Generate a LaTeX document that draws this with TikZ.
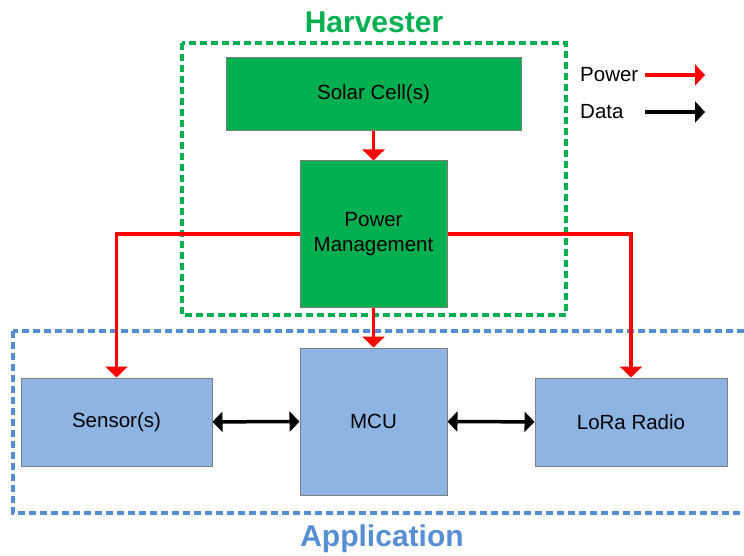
\documentclass[tikz,border=0pt]{standalone}
\usepackage{fontspec}
\setmainfont{Liberation Sans}
\usetikzlibrary{arrows.meta}
\definecolor{gfill}{HTML}{00B050}
\definecolor{bfill}{HTML}{8EB4E3}
\definecolor{bdash}{HTML}{558ED5}
\definecolor{edge}{HTML}{7F7F7F}
\tikzset{
  gbox/.style={draw=edge, line width=1pt, fill=gfill, align=center, inner sep=0pt, font=\fontsize{20.5}{25}\selectfont},
  bbox/.style={draw=edge, line width=1pt, fill=bfill, align=center, inner sep=0pt, font=\fontsize{20.5}{25}\selectfont},
  pw/.style={draw=red, line width=3.5pt, -{Triangle[width=22pt,length=11pt]}},
  dt/.style={draw=black, line width=3.5pt, {Triangle[width=20pt,length=10pt]}-{Triangle[width=20pt,length=10pt]}},
  lgtext/.style={anchor=west, inner sep=0pt, font=\fontsize{20.5}{25}\selectfont},
  region/.style={line width=3.5pt, dash pattern=on 7pt off 4pt},
  title/.style={font=\fontsize{30}{36}\selectfont\bfseries, inner sep=0pt}
}
\begin{document}
\begin{tikzpicture}[x=1pt,y=-1pt]
\useasboundingbox (0,0) rectangle (744,556);
% region boxes
\draw[region, draw=gfill] (182,43) rectangle (566,315);
\draw[region, draw=bdash] (13,331) rectangle (752,513);
\node[title, text=gfill] (htitle) at (374,22) {Harvester};
\node[title, text=bdash] (atitle) at (382,539) {Application};
% blocks
\node[gbox, minimum width=295pt, minimum height=73pt] (solar) at (373.5,94) {Solar Cell(s)};
\node[gbox, minimum width=147pt, minimum height=146pt] (pm) at (373.5,234) {Power\\Management};
\node[bbox, minimum width=191pt, minimum height=88pt] (sensor) at (116.5,422) {Sensor(s)};
\node[bbox, minimum width=147pt, minimum height=147pt] (mcu) at (373.5,421.5) {MCU};
\node[bbox, minimum width=192pt, minimum height=88pt] (lora) at (631,422) {LoRa Radio};
% power connectors
\draw[pw] (solar) -- (pm);
\draw[pw] (pm) -- (mcu);
\draw[pw] (pm.west) -| (sensor.north);
\draw[pw] (pm.east) -| (lora.north);
% data connectors
\draw[dt] (sensor) -- (mcu);
\draw[dt] (mcu) -- (lora);
% legend
\node[lgtext] (lpow) at (580,75) {Power};
\node[lgtext] (ldat) at (580,112) {Data};
\coordinate (pa1) at (645,75);
\coordinate (pa2) at (705,75);
\coordinate (da1) at (645,112);
\coordinate (da2) at (705,112);
\draw[draw=red, line width=3.5pt, -{Triangle[width=21pt,length=10pt]}] (pa1) -- (pa2);
\draw[draw=black, line width=3.5pt, -{Triangle[width=21pt,length=10pt]}] (da1) -- (da2);
\end{tikzpicture}
\end{document}
